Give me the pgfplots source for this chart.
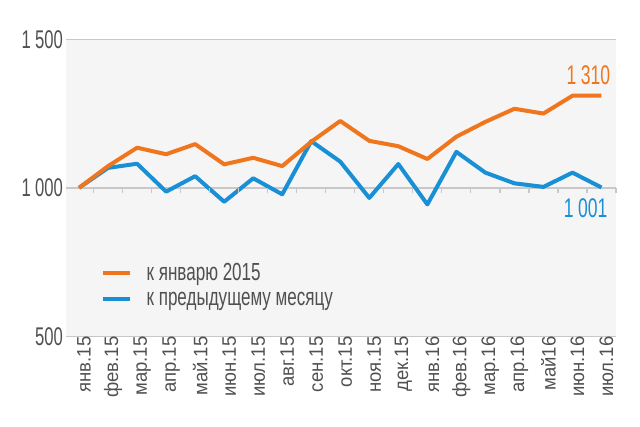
\documentclass[border=0pt]{standalone}
\usepackage{pgfplots}
\pgfplotsset{compat=1.18}
\usepackage{fontspec}
\setmainfont{Liberation Sans}
\newfontfamily\cond[FakeStretch=0.65]{Liberation Sans}
\newfontfamily\condl[FakeStretch=0.69]{Liberation Sans}
\newfontfamily\condx[FakeStretch=0.95]{Liberation Sans}
\definecolor{cOrange}{RGB}{240,118,30}
\definecolor{cBlue}{RGB}{25,143,214}
\definecolor{cText}{RGB}{80,80,80}
\definecolor{cGrid}{RGB}{200,200,200}
\definecolor{cBack}{RGB}{245,245,245}
\begin{document}
\begin{tikzpicture}[x=1pt,y=1pt]
\begin{axis}[
  at={(66pt,90.7pt)}, anchor=south west,
  scale only axis, width=550pt, height=297pt,
  xmin=-0.45, xmax=18.5, ymin=500, ymax=1500,
  axis background/.style={fill=cBack},
  axis line style={draw=none},
  major tick length=0pt,
  ytick={500,1000,1500},
  yticklabels={500,1\,000,1\,500},
  ymajorgrids, grid style={cGrid, line width=1.5pt},
  yticklabel style={font=\cond\fontsize{25.6}{26}\selectfont, text=cText, inner sep=1pt, xshift=-2pt},
  xtick={0,...,18},
  xticklabels={янв.15,фев.15,мар.15,апр.15,май.15,июн.15,июл.15,авг.15,сен.15,окт.15,ноя.15,дек.15,янв.16,фев.16,мар.16,апр.16,май16,июн.16,июл.16},
  xticklabel style={rotate=90, anchor=east, font=\condx\fontsize{19.5}{20}\selectfont, text=cText, inner sep=0pt, yshift=-5pt},
  legend style={at={(axis description cs:0.058,0.087)}, anchor=south west, draw=none, fill=none,
    font=\condl\fontsize{24.7}{25}\selectfont, text=cText, row sep=7pt,
    nodes={inner sep=1.5pt},
    /tikz/every odd column/.append style={column sep=13pt}},
  legend cell align=left,
  legend image code/.code={\draw[#1, line width=4pt] (0pt,0pt) -- (27pt,0pt);},
  clip=false,
]
\addlegendimage{cOrange}
\addlegendentry{к январю 2015}
\addlegendimage{cBlue}
\addlegendentry{к предыдущему месяцу}
% small tick marks hanging under the 1000 line
\addplot[forget plot, only marks, mark=|, mark size=2.5pt, mark options={cGrid, line width=1.2pt}]
 coordinates {(0.5,991.6)(1.5,991.6)(2.5,991.6)(3.5,991.6)(4.5,991.6)(5.5,991.6)(6.5,991.6)(7.5,991.6)(8.5,991.6)(9.5,991.6)(10.5,991.6)(11.5,991.6)(12.5,991.6)(13.5,991.6)(14.5,991.6)(15.5,991.6)(16.5,991.6)(17.5,991.6)(18.5,991.6)};
\addplot[forget plot, cBlue, line width=4pt, line join=round] coordinates {
(0,1000)(1,1067)(2,1081)(3,987)(4,1039)(5,953)(6,1032)(7,978)(8,1157)(9,1088)(10,966)(11,1080)(12,944)(13,1121)(14,1051)(15,1015)(16,1003)(17,1051)(18,1001)};
\addplot[forget plot, cOrange, line width=4pt, line join=round] coordinates {
(0,1000)(1,1073)(2,1135)(3,1113)(4,1147)(5,1079)(6,1101)(7,1073)(8,1155)(9,1225)(10,1158)(11,1140)(12,1097)(13,1172)(14,1222)(15,1266)(16,1250)(17,1310)(18,1310)};
\node[font=\cond\fontsize{27}{27}\selectfont, text=cOrange] at (axis cs:17.55,1380) {1\,310};
\node[font=\cond\fontsize{27}{27}\selectfont, text=cBlue] at (axis cs:17.45,932) {1\,001};
\end{axis}
\pgfresetboundingbox
\path[use as bounding box] (0,0) rectangle (640pt,427pt);
\end{tikzpicture}
\end{document}
